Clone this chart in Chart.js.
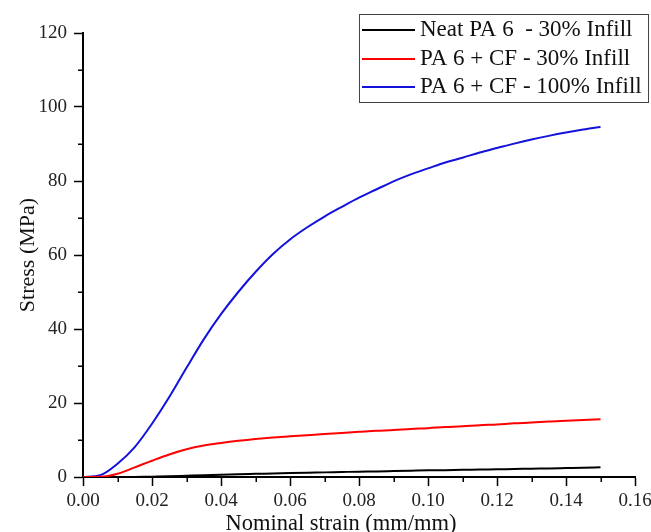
<!DOCTYPE html>
<html>
<head>
<meta charset="utf-8">
<script src="https://cdn.jsdelivr.net/npm/chart.js@4.4.1/dist/chart.umd.min.js"></script>
<style>
  html, body { margin: 0; padding: 0; background: #ffffff; overflow: hidden; }
  #wrap { width: 651px; height: 532px; position: relative; }
</style>
</head>
<body>
<div id="wrap"><canvas id="c" width="651" height="532"></canvas></div>
<script>
// ---- Data ----
const strain = [0.000, 0.005, 0.010, 0.015, 0.020, 0.025, 0.030, 0.035, 0.040, 0.045,
                0.050, 0.055, 0.060, 0.065, 0.070, 0.075, 0.080, 0.085, 0.090, 0.095,
                0.100, 0.105, 0.110, 0.115, 0.120, 0.125, 0.130, 0.135, 0.140, 0.145, 0.150];
const neatPA6_30 = [null, null, null, 0.0, 0.1, 0.2, 0.35, 0.5, 0.6, 0.75,
                    0.85, 0.95, 1.05, 1.15, 1.25, 1.35, 1.45, 1.5, 1.6, 1.7,
                    1.8, 1.85, 1.95, 2.0, 2.1, 2.15, 2.25, 2.3, 2.4, 2.5, 2.65];
const pa6CF_30 = [0.0, 0.05, 0.9, 2.6, 4.4, 6.1, 7.5, 8.5, 9.2, 9.8,
                  10.3, 10.7, 11.0, 11.3, 11.6, 11.9, 12.2, 12.5, 12.7, 13.0,
                  13.2, 13.5, 13.7, 14.0, 14.2, 14.5, 14.7, 15.0, 15.2, 15.4, 15.6];
const pa6CF_100 = [0.0, 0.5, 3.6, 8.1, 14.4, 21.6, 29.5, 37.2, 44.0, 50.0,
                   55.4, 60.2, 64.2, 67.5, 70.4, 73.0, 75.5, 77.7, 79.9, 81.8,
                   83.4, 85.0, 86.3, 87.7, 88.9, 90.1, 91.2, 92.2, 93.1, 93.9, 94.6];
const seriesLabels = ['Neat PA 6  - 30% Infill', 'PA 6 + CF - 30% Infill', 'PA 6 + CF - 100% Infill'];
const xTickValues = [0.00, 0.02, 0.04, 0.06, 0.08, 0.10, 0.12, 0.14, 0.16];
const yTickValues = [0, 20, 40, 60, 80, 100, 120];
const xTitle = 'Nominal strain (mm/mm)';
const yTitle = 'Stress (MPa)';

const FONT = "'Liberation Serif', 'Times New Roman', serif";
const colors = ['#000000', '#ff0000', '#1212dc'];

function pts(ys) {
  return strain.map((x, i) => ({ x: x, y: ys[i] }));
}

const minorTicks = {
  id: 'minorTicks',
  afterDraw(chart) {
    const ctx = chart.ctx;
    const xs = chart.scales.x, ys = chart.scales.y;
    ctx.save();
    ctx.strokeStyle = '#000';
    ctx.lineWidth = 1.5;
    ctx.beginPath();
    for (let i = 0; i < xTickValues.length - 1; i++) {
      const v = (xTickValues[i] + xTickValues[i + 1]) / 2;
      const px = Math.round(xs.getPixelForValue(v)) + 0.25;
      ctx.moveTo(px, xs.top);
      ctx.lineTo(px, xs.top + 5);
    }
    for (let i = 0; i < yTickValues.length - 1; i++) {
      const v = (yTickValues[i] + yTickValues[i + 1]) / 2;
      const py = Math.round(ys.getPixelForValue(v)) + 0.25;
      ctx.moveTo(ys.right - 5, py);
      ctx.lineTo(ys.right, py);
    }
    ctx.stroke();

    // x axis title
    ctx.fillStyle = '#111';
    ctx.font = "22.5px " + FONT;
    ctx.textAlign = 'center';
    ctx.textBaseline = 'alphabetic';
    ctx.fillText(xTitle, 341, 530);

    // legend box
    const bx = 359.5, by = 14.5, bw = 289, bh = 88;
    ctx.fillStyle = '#fff';
    ctx.fillRect(bx, by, bw, bh);
    ctx.strokeStyle = '#444';
    ctx.lineWidth = 1;
    ctx.strokeRect(bx, by, bw, bh);
    const rows = [30, 59, 87];
    ctx.font = "23px " + FONT;
    ctx.textAlign = 'left';
    ctx.textBaseline = 'middle';
    chart.data.datasets.forEach((ds, i) => {
      const ry = rows[i];
      ctx.strokeStyle = ds.borderColor;
      ctx.lineWidth = 2;
      ctx.beginPath();
      ctx.moveTo(362, ry);
      ctx.lineTo(415, ry);
      ctx.stroke();
      ctx.fillStyle = '#111';
      ctx.fillText(ds.label, 420, ry);
    });
    ctx.restore();
  }
};

new Chart(document.getElementById('c'), {
  type: 'line',
  data: {
    datasets: [
      { label: seriesLabels[0], data: pts(neatPA6_30), borderColor: colors[0] },
      { label: seriesLabels[1], data: pts(pa6CF_30), borderColor: colors[1] },
      { label: seriesLabels[2], data: pts(pa6CF_100), borderColor: colors[2] }
    ].map(d => Object.assign(d, {
      borderWidth: 2, pointRadius: 0, fill: false,
      cubicInterpolationMode: 'monotone', spanGaps: false
    }))
  },
  options: {
    responsive: false,
    animation: false,
    devicePixelRatio: 1,
    layout: { padding: { left: 0, top: 33, right: 16, bottom: 0 } },
    plugins: { legend: { display: false }, tooltip: { enabled: false } },
    scales: {
      x: {
        type: 'linear',
        min: 0, max: 0.16,
        afterBuildTicks(s) { s.ticks = xTickValues.map(v => ({ value: v })); },
        afterFit(s) { s.height = 55; s.paddingLeft = 0; s.paddingRight = 0; },
        ticks: {
          padding: 4,
          color: '#222',
          font: { family: FONT, size: 19 },
          callback: v => Number(v).toFixed(2),
          maxRotation: 0, autoSkip: false
        },
        grid: { display: true, drawOnChartArea: false, drawTicks: true, tickLength: 9, tickWidth: 1.5, tickColor: '#000' },
        border: { display: true, color: '#000', width: 2 },
        title: { display: false }
      },
      y: {
        type: 'linear',
        min: 0, max: 120,
        afterBuildTicks(s) { s.ticks = yTickValues.map(v => ({ value: v })); },
        afterFit(s) { s.width = 83; s.paddingTop = 0; s.paddingBottom = 0; },
        ticks: {
          padding: 7,
          color: '#222',
          font: { family: FONT, size: 19 },
          callback: v => String(v),
          autoSkip: false
        },
        grid: { display: true, drawOnChartArea: false, drawTicks: true, tickLength: 9, tickWidth: 1.5, tickColor: '#000' },
        border: { display: true, color: '#000', width: 2 },
        title: {
          display: true, text: yTitle, color: '#111',
          font: { family: FONT, size: 22, lineHeight: 1 },
          padding: { top: 17, bottom: 0 }
        }
      }
    }
  },
  plugins: [minorTicks]
});
</script>
</body>
</html>
